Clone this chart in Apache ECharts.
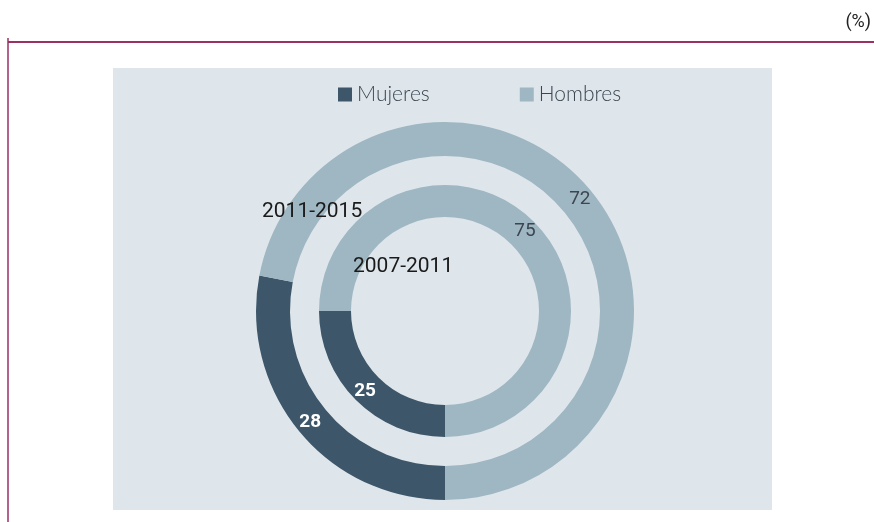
<!DOCTYPE html>
<html>
<head>
<meta charset="utf-8">
<script src="https://cdn.jsdelivr.net/npm/echarts@6/dist/echarts.min.js"></script>
<style>
  html, body { margin: 0; padding: 0; background: #fff; }
  #chart { width: 874px; height: 522px; }
</style>
</head>
<body>
<div id="chart"></div>
<script>
// 数据
var categories = ['Mujeres', 'Hombres'];
var periods = ['2007-2011', '2011-2015'];
var mujeres = [25, 28];
var hombres = [75, 72];
var colors = ['#3d5669', '#9fb7c2'];

var myChart = echarts.init(document.getElementById('chart'));

// 每个时期一个环
function ring(i, radius) {
	return {
		name: periods[i],
		type: 'pie',
		center: [445, 311],
		radius: radius,
		startAngle: 270,
		clockwise: true,
		silent: true,
		animation: false,
		label: {
			show: true,
			position: 'inside',
			fontFamily: 'Roboto',
			fontSize: 19,
			formatter: '{c}'
		},
		labelLine: { show: false },
		data: [{
			name: categories[0],
			value: mujeres[i],
			itemStyle: { color: colors[0] },
			label: { color: '#ffffff', fontWeight: 'bold' }
		}, {
			name: categories[1],
			value: hombres[i],
			itemStyle: { color: colors[1] },
			label: { color: '#3b4650', fontWeight: 'normal' }
		}]
	};
}

var option = {
	animation: false,
	legend: {
		data: categories,
		left: 333,
		top: 79,
		icon: 'rect',
		itemWidth: 14,
		itemHeight: 14,
		itemGap: 90,
		textStyle: { color: '#3b4650', fontSize: 21, fontFamily: 'Lato', fontWeight: 300 }
	},
	graphic: [{
		type: 'rect',
		z: -10,
		shape: { x: 113, y: 68, width: 659, height: 442 },
		style: { fill: '#dee6ec' }
	}, {
		type: 'line',
		shape: { x1: 8, y1: 42, x2: 874, y2: 42 },
		style: { stroke: '#9b3163', lineWidth: 2 }
	}, {
		type: 'line',
		shape: { x1: 8, y1: 38, x2: 8, y2: 522 },
		style: { stroke: '#9b3163', lineWidth: 1.5 }
	}, {
		type: 'text',
		right: 3,
		top: 13,
		style: { text: '(%)', fill: '#222', fontSize: 18, fontFamily: 'Roboto' }
	}, {
		type: 'text',
		z: 100,
		left: 262,
		top: 201,
		style: { text: periods[1], fill: '#1a1a1a', fontSize: 21, fontFamily: 'Roboto' }
	}, {
		type: 'text',
		z: 100,
		left: 353,
		top: 256,
		style: { text: periods[0], fill: '#1a1a1a', fontSize: 21, fontFamily: 'Roboto' }
	}],
	series: [
		ring(1, [155, 189]),
		ring(0, [94, 126])
	]
};
myChart.setOption(option);
</script>
</body>
</html>
